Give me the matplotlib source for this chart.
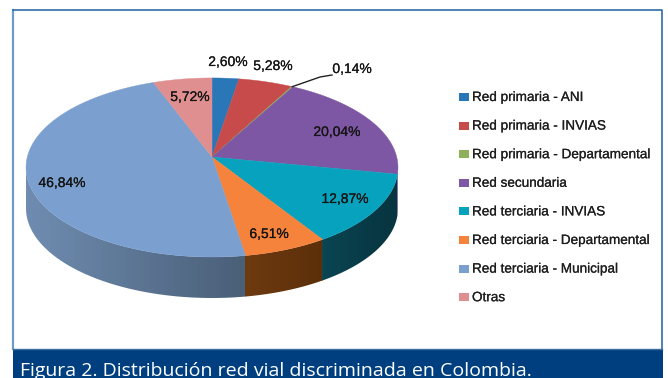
import numpy as np
import matplotlib
matplotlib.use('Agg')
import matplotlib.pyplot as plt
import matplotlib.patheffects as pe
from matplotlib.colors import to_rgb
from matplotlib.patches import Polygon, Rectangle

plt.rcParams['font.family'] = ['Liberation Sans', 'DejaVu Sans']

categories = ['Red primaria - ANI', 'Red primaria - INVIAS', 'Red primaria - Departamental',
              'Red secundaria', 'Red terciaria - INVIAS', 'Red terciaria - Departamental',
              'Red terciaria - Municipal', 'Otras']
values = [2.60, 5.28, 0.14, 20.04, 12.87, 6.51, 46.84, 5.72]
labels = ['2,60%', '5,28%', '0,14%', '20,04%', '12,87%', '6,51%', '46,84%', '5,72%']
colors = ['#2a77b8', '#c84b4b', '#8fb05a', '#7d57a3', '#07a2bd', '#f5833b', '#7ba0d0', '#e08f90']
# side wall colours, left end and right end of each wedge
side_left = ['#2a77b8', '#c84b4b', '#8fb05a', '#7d57a3', '#0a4552', '#6e3a10', '#6f8cb0', '#e08f90']
side_right = ['#2a77b8', '#c84b4b', '#8fb05a', '#7d57a3', '#07343f', '#5c2f0a', '#4a5f78', '#e08f90']

# pixel layout of the value labels
label_xy = [(228, 62), (273, 66), (352, 69), (337, 132), (345, 199), (269, 234), (62, 183), (190, 97)]

# pie geometry in pixels, with a bit of perspective
cx, cy = 212, 157
rx, ry = 184.7, 88.3
k = 0.117
depth = 41
wall_from, wall_to = np.arccos(-k), 2 * np.pi - np.arccos(-k)

# printed text looks a little heavier than the plain font
heavy = [pe.withStroke(linewidth=0.15, foreground='#1e1e1e')]


def face_xy(angle):
    c, s = np.cos(angle), np.sin(angle)
    w = 1 / (1 + k * c)
    return cx + rx * s * w, cy - ry * c * w


fig = plt.figure(figsize=(6.68, 3.78), dpi=100, facecolor='white')
ax = fig.add_axes([0, 0, 1, 1])

# frame and caption band
ax.plot([13, 13], [10, 349], color='#6f9bc8', lw=1.6)
ax.plot([13, 662, 662], [10, 10, 349], color='#2f6ca8', lw=1.2)
ax.add_patch(Rectangle((13, 349), 649.5, 29, fc='#003f7f', ec='none'))
ax.plot([13, 662], [349, 349], color='#3f6f9f', lw=1)
ax.text(20, 375.5, 'Figura 2. Distribución red vial discriminada en Colombia.',
        color='white', fontsize=14, family='Open Sans', va='baseline', ha='left')

edges = np.cumsum([0] + values) / sum(values) * 2 * np.pi

# side wall, a gradient image clipped to the wall outline
# drawn from the last wedge back, each one a hair wider so no seam shows
for i in reversed(range(len(values))):
    a0, a1 = max(edges[i], wall_from), min(edges[i + 1], wall_to)
    if a1 <= a0:
        continue
    xs, ys = face_xy(np.linspace(a0, min(a1 + 0.003, wall_to), 120))
    outline = np.r_[np.c_[xs, ys], np.c_[xs, ys + depth][::-1]]
    left, right = xs.min(), xs.max()
    grad = np.linspace(to_rgb(side_left[i]), to_rgb(side_right[i]), 64)[None, :, :]
    im = ax.imshow(grad, extent=(left, right, ys.max() + depth, ys.min()), aspect='auto')
    im.set_clip_path(Polygon(outline, transform=ax.transData))

# top faces
for i in range(len(values)):
    tt = np.linspace(edges[i], edges[i + 1], max(int((edges[i + 1] - edges[i]) / 0.01), 2))
    xs, ys = face_xy(tt)
    ax.add_patch(Polygon(np.r_[[[cx, cy]], np.c_[xs, ys]], fc=colors[i], ec=colors[i], lw=0.3))

# value labels
for lab, (x, y) in zip(labels, label_xy):
    ax.text(x, y, lab, fontsize=10, color='#141414', ha='center', va='center', path_effects=heavy)

# 0,14% sits outside with a leader line
x0, y0 = face_xy((edges[2] + edges[3]) / 2)
ax.plot([x0, 320, 332], [y0, 77, 75], color='#222222', lw=1)

# legend
for i, (name, col) in enumerate(zip(categories, colors)):
    y = 97 + i * 28.6
    ax.add_patch(Rectangle((459, y - 4), 10, 8, fc=col, ec='none'))
    ax.text(472, y, name, fontsize=9.75, color='#1e1e1e', ha='left', va='center', path_effects=heavy)

ax.set_xlim(0, 668)
ax.set_ylim(378, 0)
ax.axis('off')

fig.savefig('out.png', dpi=100)
